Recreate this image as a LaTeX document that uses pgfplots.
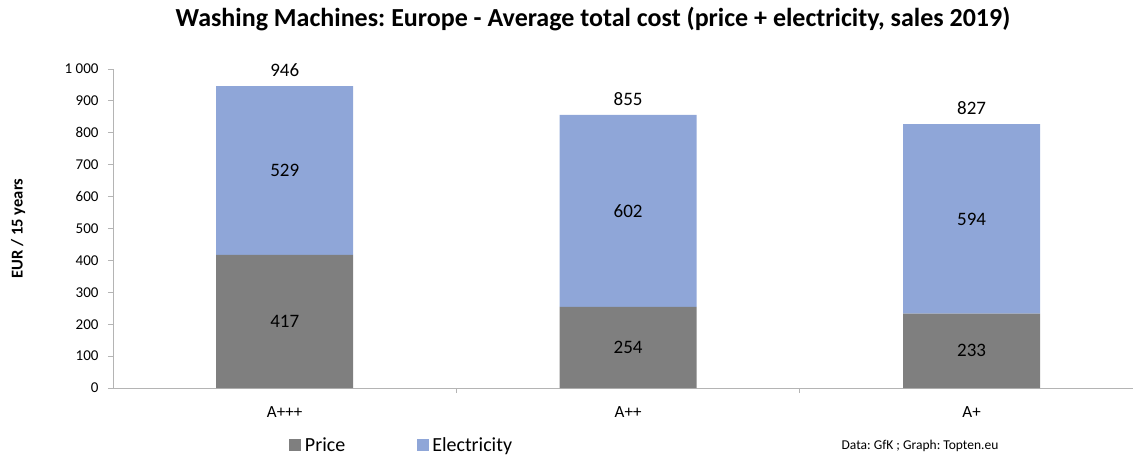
\documentclass[border=0pt]{standalone}
\usepackage{pgfplots}
\pgfplotsset{compat=1.18}
\usepackage{fontspec}
\setmainfont{Carlito}
\frenchspacing
\definecolor{price}{HTML}{7F7F7F}
\definecolor{elec}{HTML}{8FA6D8}
\definecolor{axgray}{HTML}{B4B4B4}
\begin{document}
\begin{tikzpicture}
\path[use as bounding box] (0pt,0pt) rectangle (1137pt,456pt);
\begin{axis}[
  at={(113pt,68pt)}, anchor=south west,
  scale only axis, width=1020pt, height=319pt,
  ybar stacked, bar width=137pt,
  xmin=-0.5, xmax=2.47, ymin=0, ymax=1000,
  axis x line*=bottom, axis y line*=left,
  axis line style={axgray, line width=0.9pt},
  xtick={0.5,1.5}, xticklabels={,},
  extra x ticks={0,1,2}, extra x tick labels={A+++,A++,A+},
  extra x tick style={major tick length=0pt},
  x tick label style={font=\fontsize{17}{19}\selectfont, yshift=-15pt},
  ytick={0,100,...,1000},
  yticklabels={0,100,200,300,400,500,600,700,800,900,1 000},
  y tick label style={font=\fontsize{15}{17}\selectfont, xshift=-6pt},
  tick style={axgray, line width=0.9pt},
  major tick length=5pt, tick align=outside,
  ylabel={\textbf{EUR / 15 years}},
  ylabel style={font=\fontsize{16.5}{19}\selectfont, at={(axis description cs:-0.093,0.5)}, anchor=center},
  legend style={draw=none, fill=none, at={(0.173,-0.179)}, anchor=west,
    inner sep=0pt, outer sep=0pt,
    legend columns=2, font=\fontsize{20}{22}\selectfont,
    nodes={inner sep=3.5pt},
    /tikz/every even column/.append style={column sep=68pt}},
  legend image code/.code={\fill[#1] (0pt,-6pt) rectangle (12pt,6pt);},
  clip=false,
]
\addplot[fill=price, draw=none] coordinates {(0,417) (1,254) (2,233)};
\addlegendentry{Price}
\addplot[fill=elec, draw=none] coordinates {(0,529) (1,602) (2,594)};
\addlegendentry{Electricity}
\coordinate (p0) at (axis cs:0,208.5);
\coordinate (p1) at (axis cs:1,127);
\coordinate (p2) at (axis cs:2,116.5);
\coordinate (e0) at (axis cs:0,681.5);
\coordinate (e1) at (axis cs:1,555);
\coordinate (e2) at (axis cs:2,530);
\coordinate (t0) at (axis cs:0,946);
\coordinate (t1) at (axis cs:1,855);
\coordinate (t2) at (axis cs:2,827);
\end{axis}
\begin{scope}[every node/.style={font=\fontsize{19}{21}\selectfont}]
\node at (p0) {417};
\node at (p1) {254};
\node at (p2) {233};
\node at (e0) {529};
\node at (e1) {602};
\node at (e2) {594};
\node[above=6pt] at (t0) {946};
\node[above=6pt] at (t1) {855};
\node[above=6pt] at (t2) {827};
\end{scope}
\node[font=\bfseries\fontsize{26}{28}\selectfont] at (593pt,437pt) {Washing Machines: Europe - Average total cost (price + electricity, sales 2019)};
\node[font=\fontsize{13.5}{15}\selectfont] at (920pt,10pt) {Data: GfK ; Graph: Topten.eu};
\end{tikzpicture}
\end{document}
